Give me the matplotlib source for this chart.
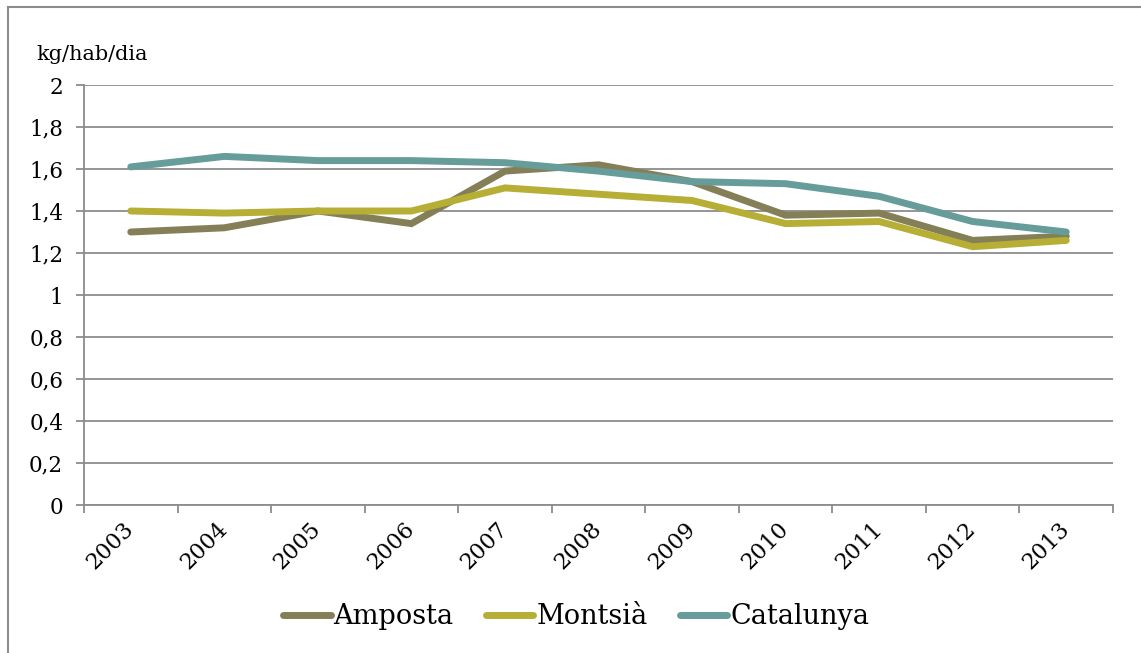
import matplotlib
matplotlib.use("Agg")
import matplotlib.pyplot as plt
from matplotlib.ticker import FuncFormatter, FixedLocator
from matplotlib.patches import Rectangle
from matplotlib.transforms import ScaledTranslation

years = ["2003", "2004", "2005", "2006", "2007", "2008", "2009", "2010", "2011", "2012", "2013"]
amposta = [1.30, 1.32, 1.40, 1.34, 1.59, 1.62, 1.54, 1.38, 1.39, 1.26, 1.28]
montsia = [1.40, 1.39, 1.40, 1.40, 1.51, 1.48, 1.45, 1.34, 1.35, 1.23, 1.26]
catalunya = [1.61, 1.66, 1.64, 1.64, 1.63, 1.59, 1.54, 1.53, 1.47, 1.35, 1.30]

series = [("Amposta", amposta, "#857f57"), ("Montsià", montsia, "#b6ae35"), ("Catalunya", catalunya, "#669c99")]

plt.rcParams['font.family'] = ['DejaVu Serif']

fig = plt.figure(figsize=(11.41, 6.53), dpi=100)
ax = fig.add_axes([84/1141, 1-505/653, (1113-84)/1141, (505-85)/653])

x = list(range(len(years)))
for name, vals, col in series:
    ax.plot(x, vals, color=col, lw=5.0, solid_capstyle='round', solid_joinstyle='miter', label=name, zorder=3)

ax.set_xlim(-0.5, len(years) - 0.5)
ax.set_ylim(0, 2)
ax.set_yticks([i * 0.2 for i in range(11)])
ax.yaxis.set_major_formatter(FuncFormatter(lambda v, p: ("%g" % round(v, 1)).replace('.', ',')))
ax.grid(axis='y', color='#8c8c8c', lw=1.3, zorder=0)
ax.set_axisbelow(True)

ax.set_xticks(x)
ax.set_xticklabels([])
offset = ScaledTranslation(-0.08, -0.125, fig.dpi_scale_trans)
for xi, yr in zip(x, years):
    ax.text(xi, 0, yr, transform=ax.get_xaxis_transform() + offset, rotation=45,
            rotation_mode='anchor', ha='right', va='top', fontsize=16, clip_on=False)
ax.xaxis.set_minor_locator(FixedLocator([i - 0.5 for i in range(len(years) + 1)]))
ax.tick_params(axis='x', which='major', length=0)
ax.tick_params(axis='x', which='minor', length=6, color='#8c8c8c', width=1.3)
ax.tick_params(axis='y', length=6, color='#8c8c8c', width=1.3, labelsize=15.5, pad=9)

for s in ['top', 'right']:
    ax.spines[s].set_visible(False)
for s in ['left', 'bottom']:
    ax.spines[s].set_color('#8c8c8c')
    ax.spines[s].set_linewidth(1.3)

fig.text(36/1141, 1-55/653, "kg/hab/dia", fontsize=15, va='center', ha='left')

leg = fig.legend(loc='center', bbox_to_anchor=(0.505, 1-617/653), ncol=3, frameon=False,
                 fontsize=19.5, handlelength=1.75, handletextpad=0.1, columnspacing=1.2)

fig.patches.append(Rectangle((8/1141, -0.01), 1.2, 1-7/653 + 0.01, transform=fig.transFigure,
                             fill=False, edgecolor='#8c8c8c', lw=1.5))

fig.savefig("out.png", dpi=100)
